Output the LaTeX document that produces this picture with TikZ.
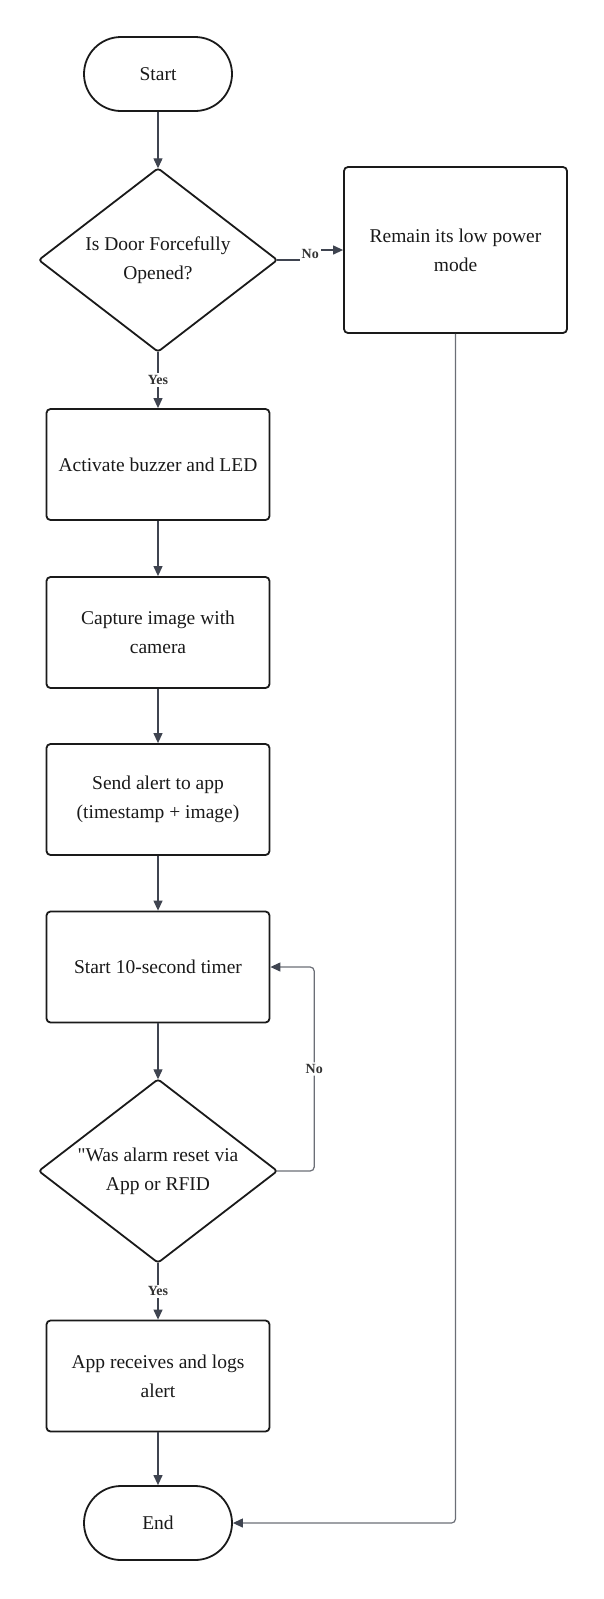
\documentclass[tikz,border=0pt]{standalone}
\usepackage{fontspec}
\setmainfont{Liberation Serif}
\newfontfamily\plainserif{Liberation Serif}[Ligatures=ResetAll]
\usetikzlibrary{arrows.meta}
\definecolor{linec}{HTML}{3F4450}
\definecolor{linel}{HTML}{6B6E76}
\definecolor{edgec}{HTML}{1A1A1A}
\begin{document}
\begin{tikzpicture}[x=1pt,y=-1pt,
  txt/.style={font=\fontsize{19.5}{29}\selectfont, align=center, text=black!90},
  box/.style={txt, draw=edgec, line width=1.8pt, rounded corners=4pt, minimum width=223pt, minimum height=111pt, inner sep=0pt},
  term/.style={txt, draw=edgec, line width=1.8pt, rounded corners=37pt, minimum width=148pt, minimum height=74pt, inner sep=0pt},
  dia/.style={txt, minimum width=238pt, minimum height=183pt, inner sep=0pt},
  diaedge/.style={draw=edgec, line width=1.8pt, rounded corners=3pt},
  conn/.style={draw=linec, line width=1.2pt, -{Triangle[length=10pt,width=9pt]}},
  conn2/.style={draw=linel, line width=1.2pt, rounded corners=4pt, -{Triangle[length=10pt,width=9pt,color=linec]}},
  lab/.style={fill=white, font=\bfseries\fontsize{14}{16}\selectfont, text=black!80, inner sep=2pt}]
\useasboundingbox (0,0) rectangle (604,1599);

\node[term] (start) at (158,74) {Start};
\node[dia] (d1) at (158,260) {Is Door Forcefully\\Opened?};
\draw[diaedge] (d1.north) -- (d1.east) -- (d1.south) -- (d1.west) -- cycle;
\node[box, minimum height=166pt] (remain) at (455.5,250) {Remain its low power\\mode};
\node[box] (b1) at (158,464.5) {Activate buzzer and LED};
\node[box] (b2) at (158,632.5) {Capture image with\\camera};
\node[box] (b3) at (158,799.5) {Send alert to app\\(timestamp + image)};
\node[box] (b4) at (158,967) {Start 10-second timer};
\node[dia] (d2) at (158,1171) {{\plainserif"}Was alarm reset via\\App or RFID};
\draw[diaedge] (d2.north) -- (d2.east) -- (d2.south) -- (d2.west) -- cycle;
\node[box] (b5) at (158,1376) {App receives and logs\\alert};
\node[term] (end) at (158,1523) {End};

\draw[conn] (start) -- (d1.north);
\draw[conn] (d1.south) -- node[lab]{Yes} (b1);
\draw[conn] (b1) -- (b2);
\draw[conn] (b2) -- (b3);
\draw[conn] (b3) -- (b4);
\draw[conn] (b4) -- (d2.north);
\draw[conn] (d2.south) -- node[lab]{Yes} (b5);
\draw[conn] (b5) -- (end);
\draw[conn] (d1.east) -- ++(33,0) |- node[lab, pos=0.5, yshift=-4pt]{No} (remain.west);
\draw[conn2] (d2.east) -- ++(37,0) |- node[lab, pos=0.25]{No} (b4.east);
\draw[conn2] (remain.south) |- (end.east);
\end{tikzpicture}
\end{document}
